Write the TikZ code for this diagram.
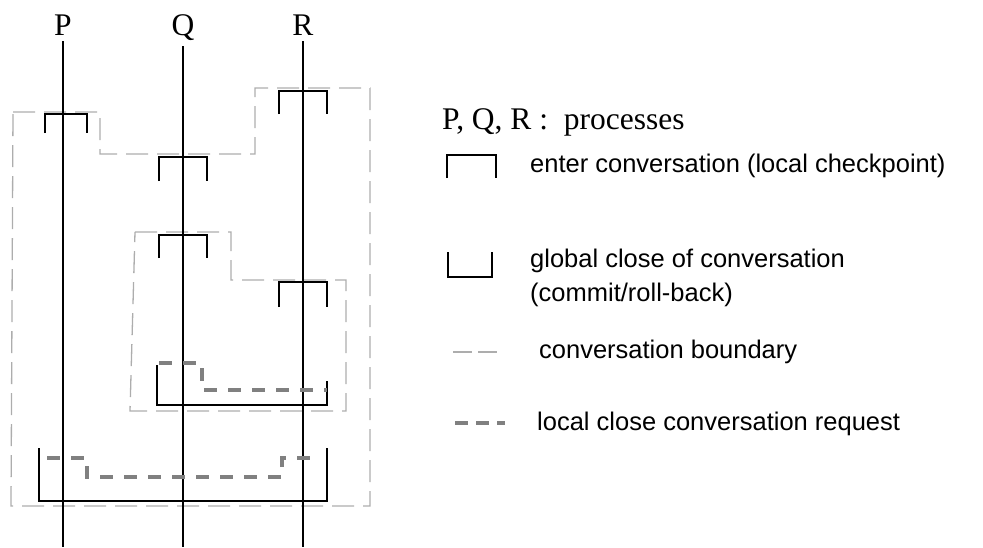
\documentclass[tikz,border=0pt]{standalone}
\usepackage{fontspec}
\setmainfont{Liberation Serif}
\newfontfamily\arialfont{Liberation Sans}
\begin{document}
\begin{tikzpicture}[x=1pt,y=-1pt,
  procline/.style={black,line width=1.2pt},
  bracket/.style={black,line width=1.2pt},
  boundary/.style={draw=black!32,line width=1.3pt,dash pattern=on 22pt off 9pt},
  request/.style={draw=black!50,line width=4pt,dash pattern=on 13pt off 11pt},
  lbl/.style={font=\fontsize{31.5}{36}\selectfont,inner sep=0pt,anchor=base},
  legtxt/.style={font=\arialfont\fontsize{25.5}{31}\selectfont,inner sep=0pt,anchor=base west},
  legtimes/.style={font=\fontsize{31.5}{36}\selectfont,inner sep=0pt,anchor=base west}]
\useasboundingbox (0,0) rectangle (983,547);
% process labels
\node[lbl] (P) at (63,35) {P};
\node[lbl] (Q) at (183,35) {Q};
\node[lbl] (R) at (303,35) {R};
\coordinate (Pe) at (63,547);
\coordinate (Qe) at (183,547);
\coordinate (Re) at (303,547);
% outer boundary
\draw[boundary] (13,112) -- (100,112) -- (100,154) -- (255,154) -- (255,88) -- (370,88) -- (370,506) -- (11,506) -- cycle;
% inner boundary
\draw[boundary] (135,232) -- (231,232) -- (231,280) -- (346,280) -- (346,411) -- (130,411) -- cycle;
% process lines
\draw[procline] (P.south) ++(0,6) -- (Pe);
\draw[procline] (Q.south) ++(0,6) -- (Qe);
\draw[procline] (R.south) ++(0,6) -- (Re);
% enter brackets
\draw[bracket] (45,133) -- (45,114) -- (87,114) -- (87,133);
\draw[bracket] (159,181) -- (159,157) -- (207,157) -- (207,181);
\draw[bracket] (279,114) -- (279,91) -- (327,91) -- (327,114);
\draw[bracket] (159,258) -- (159,235) -- (207,235) -- (207,258);
\draw[bracket] (279,307) -- (279,282) -- (327,282) -- (327,307);
% global close brackets
\draw[bracket] (157,365) -- (157,405) -- (327,405) -- (327,381);
\draw[bracket] (39,448) -- (39,501) -- (327,501) -- (327,448);
% local close requests
\draw[request] (159,363) -- (202,363) -- (202,390) -- (327,390);
\draw[request] (47,458) -- (87,458) -- (87,477) -- (282,477) -- (282,458) -- (319,458);
% legend
\node[legtimes] (l1) at (442,129) {P, Q, R :\ \ processes};
\draw[bracket] (447,178) -- (447,155) -- (496,155) -- (496,178);
\node[legtxt] (l2) at (530,172) {enter conversation (local checkpoint)};
\draw[bracket] (448,252) -- (448,277) -- (492,277) -- (492,252);
\node[legtxt] (l3) at (530,267) {global close of conversation};
\node[legtxt] (l3b) at (530,301) {(commit/roll-back)};
\draw[boundary,dash pattern=on 19pt off 6pt] (453,352) -- (497,352);
\node[legtxt] (l4) at (539,358) {conversation boundary};
\draw[request,dash pattern=on 13pt off 8pt] (455,423) -- (505,423);
\node[legtxt] (l5) at (537,430) {local close conversation request};
\end{tikzpicture}
\end{document}
